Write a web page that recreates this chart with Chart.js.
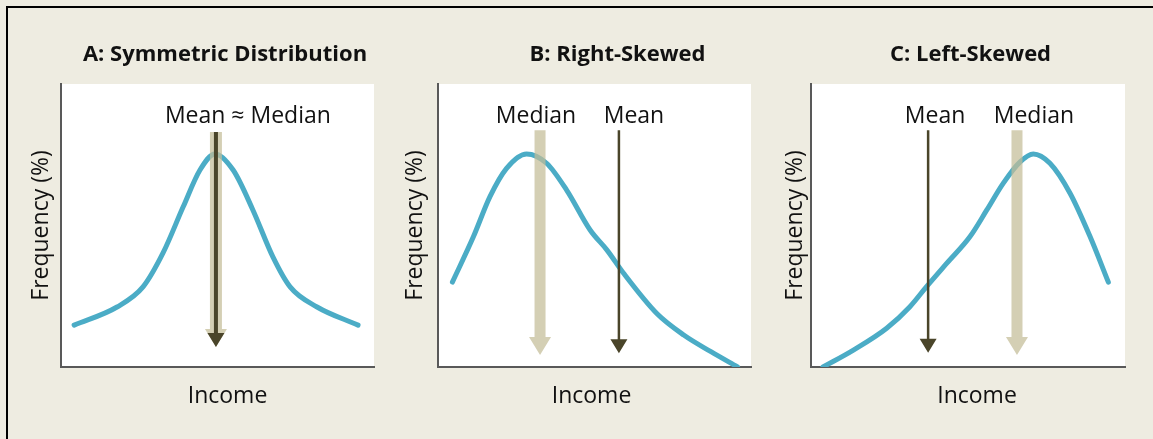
<!DOCTYPE html>
<html>
<head>
<meta charset="utf-8">
<script src="https://cdn.jsdelivr.net/npm/chart.js@4.4.1/dist/chart.umd.min.js"></script>
<style>
  html, body { margin: 0; padding: 0; background: #eeece1; width: 1153px; height: 439px; overflow: hidden; }
  #frame { position: absolute; left: 6px; top: 6px; right: -20px; bottom: -20px;
           border-top: 2px solid #000; border-left: 2px solid #000; }
  canvas { position: absolute; top: 8px; }
</style>
</head>
<body>
<div id="frame"></div>
<canvas id="pA" width="430" height="430" style="left:10px"></canvas>
<canvas id="pB" width="435" height="430" style="left:400px"></canvas>
<canvas id="pC" width="391" height="430" style="left:775px"></canvas>
<script>
/* three income distributions: symmetric, right-skewed, left-skewed.
   x = income (0-100, arbitrary), y = frequency (0-100, arbitrary) */

var panelTitles = ['A: Symmetric Distribution', 'B: Right-Skewed', 'C: Left-Skewed'];
var xTitle = 'Income';
var yTitle = 'Frequency (%)';

var incomeA = [4.2, 17.9, 26.2, 32.6, 39.0, 44.4, 49.2, 55.0, 61.3, 67.7, 73.2, 81.8, 94.9];
var freqA   = [14.8, 21.2, 28.3, 40.3, 56.5, 69.6, 75.3, 69.6, 55.5, 38.9, 28.3, 21.2, 14.8];

var incomeB = [4.6, 11.3, 16.6, 21.9, 28.3, 34.7, 41.1, 48.6, 54.0, 59.3, 70.0, 78.5, 87.2, 95.7];
var freqB   = [30.0, 46.0, 60.2, 70.2, 75.3, 72.0, 62.5, 48.4, 41.3, 33.1, 18.8, 11.3, 5.4, 0];

var incomeC = [3.8, 13.5, 24.1, 31.5, 36.8, 43.2, 50.6, 56.0, 61.2, 66.6, 70.8, 76.1, 82.5, 88.9, 94.7];
var freqC   = [0, 6.0, 13.7, 21.3, 28.4, 36.6, 46.0, 55.5, 64.9, 72.5, 75.3, 72.0, 61.4, 46.0, 30.0];

// arrow positions (income) and extent (frequency), one entry per panel
var medianAt  = [49.5, 32.6, 65.6];
var meanAt    = [49.5, 57.8, 37.3];
var arrowFrom = [83.0, 83.7, 83.7];
var medianTip = [7.1, 4.2, 4.2];
var meanTip   = [7.1, 4.9, 5.0];

// text above the arrows
var labelText  = [['Mean \u2248 Median'], ['Median', 'Mean'], ['Mean', 'Median']];
var labelAt    = [[59.7], [31.3, 62.6], [39.5, 71.0]];
var labelLevel = 88.7;

var FONT = '"Open Sans", Lato, sans-serif';
var INK = {
  curve: '#4bacc6',
  median: 'rgba(196,189,151,0.72)',
  mean: '#4a452a',
  axis: '#595959',
  text: '#111'
};

// canvas geometry per panel: y axis width, right gutter, y-title centre,
// and how far the "Income" caption sits from the plot centre
var LAYOUT = [
  { id: 'pA', yw: 51, y2w: 66, yTitleX: 31, xTitleDx: 10 },
  { id: 'pB', yw: 38, y2w: 84, yTitleX: 15.5, xTitleDx: -3 },
  { id: 'pC', yw: 36, y2w: 41, yTitleX: 20, xTitleDx: 9 }
];

function arrow(ctx, x, y0, y1, shaft, headW, headH) {
  ctx.beginPath();
  ctx.moveTo(x - shaft / 2, y0);
  ctx.lineTo(x + shaft / 2, y0);
  ctx.lineTo(x + shaft / 2, y1 - headH);
  ctx.lineTo(x + headW / 2, y1 - headH);
  ctx.lineTo(x, y1);
  ctx.lineTo(x - headW / 2, y1 - headH);
  ctx.lineTo(x - shaft / 2, y1 - headH);
  ctx.closePath();
  ctx.fill();
}

var panelMarks = {
  id: 'panelMarks',
  beforeDraw: function (chart) {
    var a = chart.chartArea, ctx = chart.ctx;
    ctx.save();
    ctx.fillStyle = '#fff';
    ctx.fillRect(a.left, a.top, a.right - a.left, a.bottom - a.top);
    ctx.restore();
  },
  afterDatasetsDraw: function (chart) {
    var m = chart.$marks;
    if (m == null) return;
    var ctx = chart.ctx, xs = chart.scales.x, ys = chart.scales.y, a = chart.chartArea;
    var top = ys.getPixelForValue(arrowFrom[m]);
    ctx.save();
    ctx.fillStyle = INK.median;
    arrow(ctx, xs.getPixelForValue(medianAt[m]), top, ys.getPixelForValue(medianTip[m]), m === 0 ? 12 : 11, 22, 18);
    ctx.fillStyle = INK.mean;
    arrow(ctx, xs.getPixelForValue(meanAt[m]), top, ys.getPixelForValue(meanTip[m]), m === 0 ? 4 : 2.5, 17, 14);

    ctx.fillStyle = INK.text;
    ctx.font = '23px ' + FONT;
    ctx.textAlign = 'center';
    ctx.textBaseline = 'middle';
    labelText[m].forEach(function (t, i) {
      ctx.fillText(t, xs.getPixelForValue(labelAt[m][i]), ys.getPixelForValue(labelLevel));
    });
    // x-axis caption, slightly off the plot centre as in the original figure
    ctx.fillText(xTitle, (a.left + a.right) / 2 + LAYOUT[m].xTitleDx, a.bottom + 29);
    ctx.restore();
  }
};

function toPoints(xs, ys) {
  return xs.map(function (x, i) { return { x: x, y: ys[i] }; });
}

var series = [toPoints(incomeA, freqA), toPoints(incomeB, freqB), toPoints(incomeC, freqC)];

LAYOUT.forEach(function (L, i) {
  var canvas = document.getElementById(L.id);
  var chart = new Chart(canvas.getContext('2d'), {
    type: 'line',
    data: { datasets: [{
      data: series[i],
      borderColor: INK.curve,
      borderWidth: 5,
      borderCapStyle: 'round',
      borderJoinStyle: 'round',
      cubicInterpolationMode: 'monotone',
      pointRadius: 0,
      fill: false
    }]},
    options: {
      responsive: false,
      animation: false,
      devicePixelRatio: 1,
      layout: { padding: 0 },
      events: [],
      plugins: {
        legend: { display: false },
        tooltip: { enabled: false },
        title: {
          display: true,
          text: panelTitles[i],
          color: INK.text,
          font: { family: FONT, size: 22, weight: 'bold', lineHeight: 1.2 },
          padding: { top: 33.8, bottom: 15.8 }
        }
      },
      scales: {
        x: {
          type: 'linear', min: 0, max: 100,
          grid: { display: false },
          border: { display: true, color: INK.axis, width: 2 },
          ticks: { display: false },
          afterFit: function (s) { s.height = 71; }
        },
        y: {
          type: 'linear', min: 0, max: 100,
          grid: { display: false },
          border: { display: true, color: INK.axis, width: 2 },
          ticks: { display: false },
          title: { display: true, text: yTitle, color: INK.text,
                   font: { family: FONT, size: 23, lineHeight: 1.2 },
                   padding: { top: L.yTitleX - 13.8, bottom: 0 } },
          afterFit: function (s) { s.width = L.yw; }
        },
        y2: {
          type: 'linear', position: 'right',
          grid: { display: false },
          border: { display: false },
          ticks: { display: false },
          afterFit: function (s) { s.width = L.y2w; }
        }
      }
    },
    plugins: [panelMarks]
  });
  chart.$marks = i;
  chart.draw();
});
</script>
</body>
</html>
